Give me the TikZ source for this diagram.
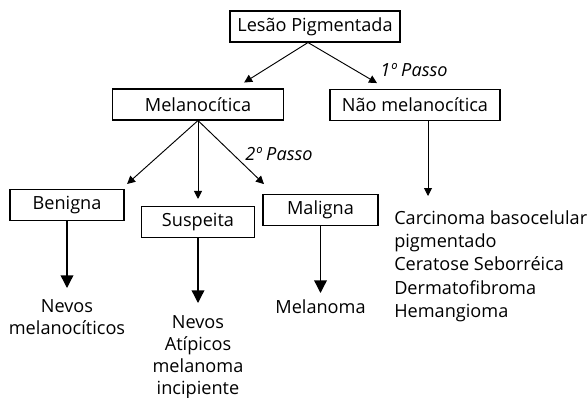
\documentclass[tikz,border=0pt]{standalone}
\usepackage{fontspec}
\setmainfont{Open Sans}
\usetikzlibrary{arrows.meta}

\begin{document}
\begin{tikzpicture}[
  x=0.75pt, y=-0.75pt,
  every node/.style={font=\fontsize{13.6}{16.5}\selectfont, inner sep=0pt},
  box/.style={draw, line width=0.8pt, minimum height=23.25pt},
  txt/.style={align=center, anchor=north},
  passo/.style={font=\fontsize{13.6}{16.5}\selectfont\itshape},
  thin arrow/.style={-{Triangle[length=6pt, width=6pt]}, line width=0.7pt},
  thick arrow/.style={-{Triangle[length=9.5pt, width=9.5pt]}, line width=1pt},
]
\useasboundingbox (0,0) rectangle (588,397);

  % Nodes
  \node[box, minimum width=127.5pt] (lesao) at (315,26.5)  {Lesão Pigmentada};
  \node[box, minimum width=128.5pt] (melan) at (198,104.5) {Melanocítica};
  \node[box, minimum width=127.5pt] (nao)   at (415,105)   {Não melanocítica};
  \node[box, minimum width=85.5pt]  (benig) at (67,205)    {Benigna};
  \node[box, minimum width=85pt]    (susp)  at (198,222)   {Suspeita};
  \node[box, minimum width=86.25pt] (malig) at (320.5,210) {Maligna};

  \node[passo] (passo1) at (414,70)  {1º Passo};
  \node[passo] (passo2) at (279,154) {2º Passo};

  \node[txt] (nevos) at (67,299)    {Nevos\\melanocíticos};
  \node[txt] (atip)  at (198,315)   {Nevos\\Atípicos\\melanoma\\incipiente};
  \node[txt] (mel)   at (320.5,299) {Melanoma};
  \node[align=left, anchor=north west, font=\fontsize{13.6}{17.6}\selectfont]
    (lista) at (394,210) {Carcinoma basocelular\\pigmentado\\Ceratose Seborréica\\Dermatofibroma\\Hemangioma};

  % Edges
  \draw[thin arrow, shorten >=8.4pt] ([xshift=-5.25pt]lesao.south) -- ([xshift=27.5pt]melan.north);
  \draw[thin arrow, shorten >=8.7pt] ([xshift=-5.25pt]lesao.south) -- ([xshift=-21pt]nao.north);
  \draw[thin arrow, shorten >=5.6pt] (melan.south) -- ([xshift=40.9pt]benig.north);
  \draw[thin arrow, shorten >=5.25pt] (melan.south) -- (susp.north);
  \draw[thin arrow, shorten >=10.7pt] (melan.south) -- ([xshift=-34.7pt]malig.north);
  \draw[thin arrow, shorten >=10.5pt] ([xshift=9.75pt]nao.south) -- ([xshift=9.75pt]nao.south |- lista.north);

  \draw[thick arrow, shorten >=8.25pt] (benig.south) -- (nevos.north);
  \draw[thick arrow, shorten >=9pt] (susp.south) -- (atip.north);
  \draw[thick arrow, shorten >=4.5pt] (malig.south) -- (mel.north);

\end{tikzpicture}
\end{document}
